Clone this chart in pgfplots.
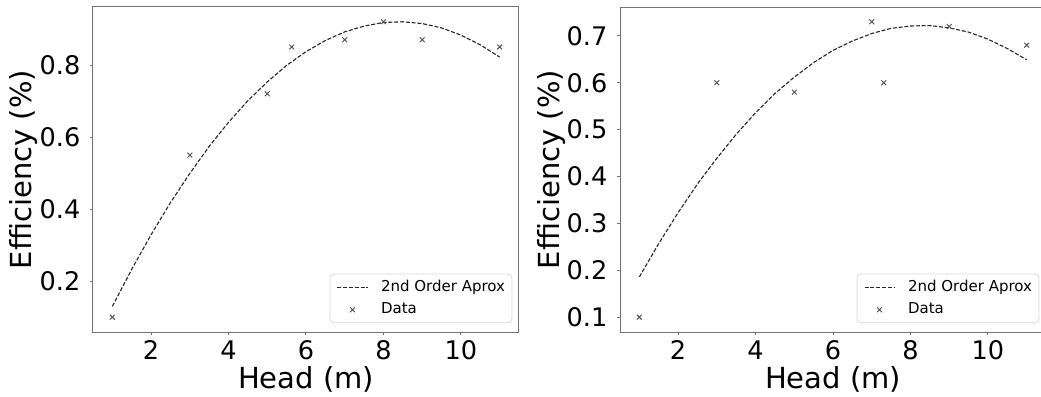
\documentclass[border=0pt]{standalone}
\usepackage{fontspec}
\setmainfont{DejaVu Sans}
\usepackage{pgfplots}
\pgfplotsset{compat=1.18}
\begin{document}
\begin{tikzpicture}
\pgfplotsset{
  effax/.style={
    scale only axis,
    width=213pt, height=162.5pt,
    anchor=south west,
    xmin=0.5, xmax=11.5,
    axis line style={black!55, line width=0.5pt},
    tick style={black!55, line width=0.5pt},
    tick align=outside,
    major tick length=1.6pt,
    xtick pos=bottom, ytick pos=left,
    xtick={2,4,6,8,10},
    /pgf/number format/assume math mode=true,
    ticklabel style={font=\fontsize{12.8}{14}\selectfont, inner sep=0pt},
    xticklabel style={anchor=north, yshift=-2.4pt},
    yticklabel style={anchor=east, xshift=-4.5pt},
    xlabel={Head (m)},
    ylabel={Efficiency (\%)},
    every axis x label/.style={at={(axis description cs:0.5,0)}, anchor=base, yshift=-28pt, inner sep=0pt, font=\fontsize{14.5}{16}\selectfont},
    every axis y label/.style={at={(axis description cs:0,0.5)}, xshift=-34.5pt, anchor=center, rotate=90, inner sep=0pt, font=\fontsize{14.5}{16}\selectfont},
    legend cell align=left,
    legend style={at={(1,0)}, anchor=south east, xshift=-3.3pt, yshift=4.4pt,
      draw=black!15, rounded corners=2pt, fill=white,
      font=\fontsize{7.5}{9}\selectfont,
      inner xsep=3.5pt, inner ysep=1.5pt, row sep=1.2pt, column sep=6.5pt,
      nodes={inner xsep=0pt, inner ysep=1.5pt}},
    fitline/.style={black!85, line width=0.55pt, dash pattern=on 2pt off 0.9pt,
      legend image code/.code={\draw[##1] (0pt,0pt) -- (15pt,0pt);}},
    datamark/.style={only marks, mark=x, mark size=1.7pt, black!70,
      mark options={line width=0.45pt},
      legend image code/.code={\draw[mark repeat=2,mark phase=2,##1] plot coordinates {(0pt,0pt) (7.5pt,0pt) (15pt,0pt)};}},
  }
}
% ---------------- left panel ----------------
\begin{axis}[effax, at={(46.5pt,32.5pt)},
  ymin=0.059, ymax=0.961,
  ytick={0.2,0.4,0.6,0.8},
  yticklabels={0.2,0.4,0.6,0.8}]
\addplot[fitline] coordinates {
(1,0.130) (1.5,0.233) (2,0.329) (2.5,0.418) (3,0.499) (3.5,0.574)
(4,0.641) (4.5,0.701) (5,0.753) (5.5,0.799) (6,0.837) (6.5,0.868)
(7,0.892) (7.5,0.908) (8,0.918) (8.5,0.920) (9,0.915) (9.5,0.903)
(10,0.883) (10.5,0.856) (11,0.822)};
\addlegendentry{2nd Order Aprox}
\addplot[datamark] coordinates {
(1,0.10) (3,0.55) (5,0.72) (5.63,0.85) (7,0.87) (8,0.92) (9,0.87) (11,0.85)};
\addlegendentry{Data}
\end{axis}
% ---------------- right panel ----------------
\begin{axis}[effax, at={(310pt,32.5pt)},
  ymin=0.0685, ymax=0.7615,
  ytick={0.1,0.2,0.3,0.4,0.5,0.6,0.7},
  yticklabels={0.1,0.2,0.3,0.4,0.5,0.6,0.7}]
\addplot[fitline] coordinates {
(1,0.186) (1.5,0.257) (2,0.323) (2.5,0.384) (3,0.439) (3.5,0.490)
(4,0.536) (4.5,0.577) (5,0.612) (5.5,0.643) (6,0.669) (6.5,0.689)
(7,0.705) (7.5,0.716) (8,0.721) (8.5,0.722) (9,0.717) (9.5,0.708)
(10,0.693) (10.5,0.673) (11,0.649)};
\addlegendentry{2nd Order Aprox}
\addplot[datamark] coordinates {
(1,0.10) (3,0.60) (5,0.58) (7,0.73) (7.31,0.60) (9,0.72) (11,0.68)};
\addlegendentry{Data}
\end{axis}
\pgfresetboundingbox
\path[use as bounding box] (0pt,0pt) rectangle (520.5pt,198.5pt);
\end{tikzpicture}
\end{document}
